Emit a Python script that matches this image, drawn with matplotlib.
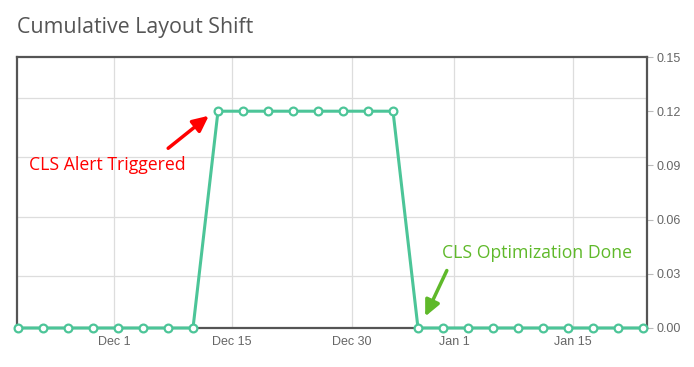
import numpy as np
import matplotlib
matplotlib.use("Agg")
import matplotlib.pyplot as plt

# CLS value per sample (26 samples)
cls_values = [0, 0, 0, 0, 0, 0, 0, 0,
              0.12, 0.12, 0.12, 0.12, 0.12, 0.12, 0.12, 0.12,
              0, 0, 0, 0, 0, 0, 0, 0, 0, 0]
x = np.arange(len(cls_values))

# date labels sit between samples
tick_pos = [3.84, 8.56, 13.36, 17.44, 22.2]
tick_labels = ["Dec 1", "Dec 15", "Dec 30", "Jan 1", "Jan 15"]
y_ticks = [0.00, 0.03, 0.06, 0.09, 0.12, 0.15]
# horizontal grid lines come from a hidden left scale, not the right labels
grid_y = [0.0289, 0.0617, 0.0944, 0.1272]

line_col = "#4cc598"
frame_col = "#555555"

fig = plt.figure(figsize=(6.94, 3.67), dpi=100)
ax = fig.add_axes([17/694, 39/367, 630/694, 271/367])

for g in grid_y:
    ax.axhline(g, color="#dddddd", lw=0.9, zorder=0)
for t in tick_pos:
    ax.axvline(t, color="#dddddd", lw=0.9, zorder=0)

ax.plot(x, cls_values, color=line_col, lw=2.2, marker="o", ms=5.6,
        mfc="white", mec=line_col, mew=1.6, clip_on=False, zorder=3)

ax.set_xlim(-0.04, 25.16)
ax.set_ylim(0, 0.15)
ax.set_xticks(tick_pos)
ax.set_xticklabels(tick_labels, fontsize=9, color="#666666", family="Liberation Sans")
ax.tick_params(axis="x", length=0, pad=6)
ax.yaxis.tick_right()
ax.set_yticks(y_ticks)
ax.set_yticklabels(["%.2f" % v for v in y_ticks], fontsize=9, color="#666666",
                   family="Liberation Sans")
ax.tick_params(axis="y", length=4, color="#bbbbbb", pad=3)
for s in ax.spines.values():
    s.set_color(frame_col)
    s.set_linewidth(1.6)

fig.text(17/694, 1 - 28/367, "Cumulative Layout Shift", fontsize=15.4,
         color="#555555", family="Open Sans", va="center", ha="left")

ax.annotate("", xy=(211/694, 1 - 114/367), xytext=(166/694, 1 - 150/367),
            xycoords="figure fraction", textcoords="figure fraction",
            arrowprops=dict(arrowstyle="-|>,head_length=0.95,head_width=0.45",
                            color="#ff0000", lw=2.5))
fig.text(29/694, 1 - 165/367, "CLS Alert Triggered", fontsize=12.7,
         color="#ff0000", family="Open Sans", va="center", ha="left")

ax.annotate("", xy=(424/694, 1 - 319/367), xytext=(448/694, 1 - 268/367),
            xycoords="figure fraction", textcoords="figure fraction",
            arrowprops=dict(arrowstyle="-|>,head_length=0.95,head_width=0.45",
                            color="#5fb92a", lw=2.5))
fig.text(442/694, 1 - 253/367, "CLS Optimization Done", fontsize=12.7,
         color="#5fb92a", family="Open Sans", va="center", ha="left")

plt.savefig("out.png", dpi=100)
